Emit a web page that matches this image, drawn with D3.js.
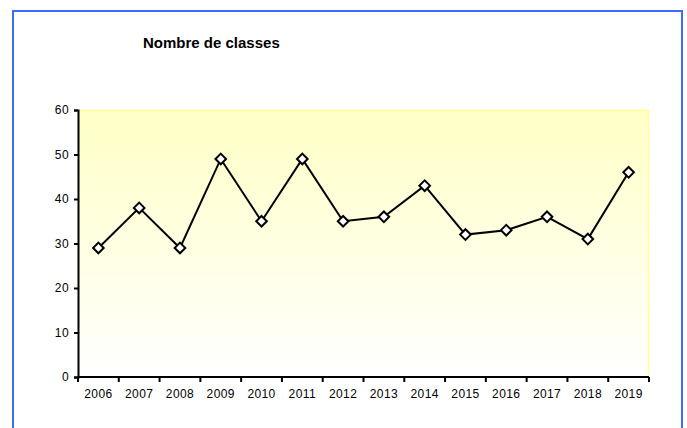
<!DOCTYPE html>
<html lang="fr">
<head>
<meta charset="UTF-8">
<title>Nombre de classes</title>
<script src="https://cdn.jsdelivr.net/npm/d3@7"></script>
<style>
    body { margin: 0; background: #fff; }
    text { font-family: "Liberation Sans", Arial, sans-serif; }
</style>
</head>
<body>
<script>

var years = ['2006', '2007', '2008', '2009', '2010', '2011', '2012',
             '2013', '2014', '2015', '2016', '2017', '2018', '2019'];
var classes = [29, 38, 29, 49, 35, 49, 35, 36, 43, 32, 33, 36, 31, 46];
var yTicks = [0, 10, 20, 30, 40, 50, 60];

var width = 687, height = 428;
var margin = {top: 110, right: 38, bottom: 51, left: 78};
var w = width - margin.left - margin.right;
var h = height - margin.top - margin.bottom;

var svg = d3.select('body').append('svg')
    .attr('width', width)
    .attr('height', height);

// cadre bleu
svg.append('rect')
    .attr('x', 13).attr('y', 11)
    .attr('width', 669).attr('height', 440)
    .attr('fill', 'none')
    .attr('stroke', '#3d6bff')
    .attr('stroke-width', 2);

svg.append('text')
    .attr('x', 143).attr('y', 48)
    .attr('font-size', 15)
    .attr('font-weight', 'bold')
    .text('Nombre de classes');

var grad = svg.append('defs').append('linearGradient')
    .attr('id', 'fond')
    .attr('x1', 0).attr('y1', 0).attr('x2', 0).attr('y2', 1);
grad.append('stop').attr('offset', '0%').attr('stop-color', '#ffffc6');
grad.append('stop').attr('offset', '100%').attr('stop-color', '#ffffff');

var g = svg.append('g')
    .attr('transform', 'translate(' + margin.left + ',' + margin.top + ')');

g.append('rect')
    .attr('width', w).attr('height', h)
    .attr('fill', 'url(#fond)');
g.append('path')
    .attr('d', 'M0,0.5H' + (w - 0.5) + 'V' + h)
    .attr('fill', 'none')
    .attr('stroke', '#ffff99')
    .attr('stroke-width', 1.5);

var x = d3.scaleBand().domain(years).range([0, w]);
var y = d3.scaleLinear().domain([0, 60]).range([h, 0]);

var yAxis = d3.axisLeft(y).tickValues(yTicks).tickSize(4).tickPadding(5);
var gy = g.append('g').call(yAxis);

var xAxis = d3.axisBottom(x).tickSize(0).tickPadding(12);
var gx = g.append('g').attr('transform', 'translate(0,' + h + ')').call(xAxis);

// graduations aux limites des catégories
gx.selectAll('.bound')
    .data(d3.range(years.length + 1))
    .enter().append('line')
    .attr('class', 'bound')
    .attr('x1', function (i) { return i * x.step(); })
    .attr('x2', function (i) { return i * x.step(); })
    .attr('y1', 0).attr('y2', 5)
    .attr('stroke', '#000')
    .attr('stroke-width', 2);

[gx, gy].forEach(function (a) {
    a.select('.domain').attr('stroke', '#000').attr('stroke-width', 2);
    a.selectAll('.tick line').attr('stroke', '#000').attr('stroke-width', 2);
    a.selectAll('.tick text')
        .attr('font-size', 12)
        .attr('letter-spacing', 0.4)
        .attr('fill', '#000')
        .style('font-family', '"Liberation Sans", Arial, sans-serif');
});
gx.select('.domain').attr('d', 'M0,0H' + w);

var line = d3.line()
    .x(function (d, i) { return x(years[i]) + x.bandwidth() / 2; })
    .y(function (d) { return y(d); });

g.append('path')
    .datum(classes)
    .attr('d', line)
    .attr('fill', 'none')
    .attr('stroke', '#000')
    .attr('stroke-width', 2);

var diamond = d3.symbol().type(d3.symbolDiamond2).size(72);

g.selectAll('.pt')
    .data(classes)
    .enter().append('path')
    .attr('class', 'pt')
    .attr('d', diamond)
    .attr('transform', function (d, i) {
        return 'translate(' + (x(years[i]) + x.bandwidth() / 2) + ',' + y(d) + ')';
    })
    .attr('fill', '#fff')
    .attr('stroke', '#000')
    .attr('stroke-width', 2);

</script>
</body>
</html>
